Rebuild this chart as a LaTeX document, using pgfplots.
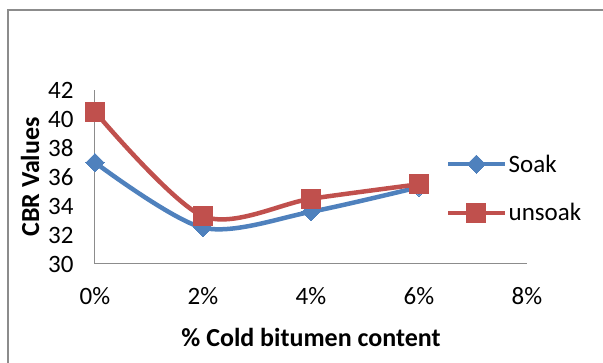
\documentclass[border=0pt]{standalone}
\usepackage{pgfplots}
\pgfplotsset{compat=1.18}
\usepackage{fontspec}
\setmainfont{Carlito}
\definecolor{sblue}{HTML}{4F81BD}
\definecolor{sred}{HTML}{C0504D}
\definecolor{frame}{HTML}{8C8C8C}
\begin{document}
\begin{tikzpicture}[x=1pt,y=1pt]
\useasboundingbox (0,0) rectangle (603,363);
\draw[frame, line width=2pt] (8,0) -- (8,353) -- (603,353);
\begin{axis}[
  at={(95pt,99pt)}, anchor=south west,
  scale only axis, width=432pt, height=174pt,
  xmin=0, xmax=8, ymin=30, ymax=42,
  xtick={0,2,4,6,8}, ytick={30,32,...,42},
  xticklabel={\pgfmathprintnumber{\tick}\%},
  /pgf/number format/assume math mode=true,
  axis x line*=bottom, axis y line*=left,
  axis line style={draw=black!45, line width=1pt, -},
  major tick length=0pt,
  tick label style={font=\fontsize{25}{30}\selectfont},
  xticklabel style={yshift=-20pt},
  yticklabel style={xshift=-18pt},
  xlabel={\textbf{\% Cold bitumen content}},
  ylabel={\textbf{CBR Values}},
  label style={font=\fontsize{26}{31}\selectfont},
  xlabel style={at={(axis description cs:0.5,-0.425)}, anchor=center},
  ylabel style={at={(axis description cs:-0.15,0.5)}, anchor=center, rotate=0},
  clip=false,
  legend style={draw=none, fill=none, at={(axis cs:6.5,35.2)}, anchor=west,
    font=\fontsize{25}{30}\selectfont, row sep=30pt, inner xsep=0pt,
    nodes={inner xsep=2pt, inner ysep=0pt},
    legend cell align=left},
  legend image code/.code={\draw[#1] plot coordinates {(0pt,0pt) (28pt,0pt) (56pt,0pt)};},
  legend image post style={mark repeat=2, mark phase=2},
]
\addplot[sblue, line width=4.5pt, smooth, tension=0.5, mark=square*, mark size=6.4pt, mark options={line width=0pt, fill=sblue, rotate=45}]
  coordinates {(0,37.0) (2,32.5) (4,33.6) (6,35.3)};
\addlegendentry{Soak}
\addplot[sred, line width=4.5pt, smooth, tension=0.5, mark=square*, mark size=9.5pt, mark options={line width=0pt, fill=sred}]
  coordinates {(0,40.5) (2,33.3) (4,34.5) (6,35.5)};
\addlegendentry{unsoak}
\end{axis}
\end{tikzpicture}
\end{document}
